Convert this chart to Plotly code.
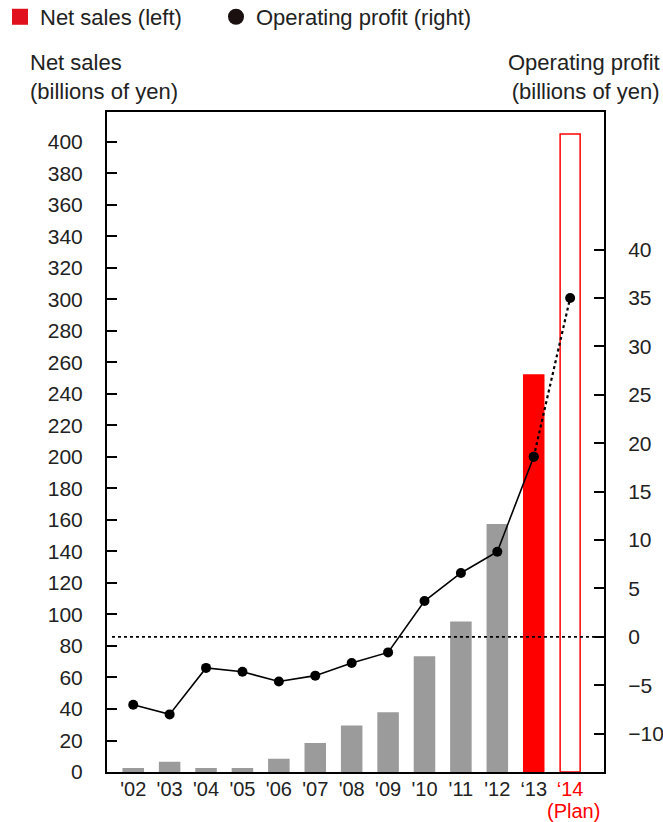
import plotly.graph_objects as go

# Fiscal years on the category axis
years = ["'02", "'03", "'04", "'05", "'06", "'07", "'08", "'09", "'10", "'11", "'12", "‘13", "‘14"]
year_labels = ["'02", "'03", "'04", "'05", "'06", "'07", "'08", "'09", "'10", "'11", "'12",
               "‘13", "<span style='color:#ff0000'>‘14</span>"]
plan_label = "(Plan)"

# Net sales, billions of yen (left axis)
net_sales = [2, 6, 2, 2, 8, 18, 29, 37.5, 73, 95, 157, 252, 405]
# Operating profit, billions of yen (right axis)
op_profit = [-7.0, -8.0, -3.2, -3.6, -4.6, -4.0, -2.7, -1.6, 3.7, 6.6, 8.8, 18.6, 35.0]

left_ticks = list(range(0, 401, 20))
right_ticks = list(range(-10, 41, 5))

FONT = "Liberation Sans, Arial, sans-serif"
GRAY = "#9b9b9b"
RED = "#ff0000"
TEXT = "#222222"

bar_fill = [GRAY] * 11 + [RED, "#ffffff"]
bar_line = [GRAY] * 11 + [RED, RED]

fig = go.Figure()

fig.add_trace(go.Bar(
    x=years, y=net_sales, width=0.55,
    marker=dict(color=bar_fill, line=dict(color=bar_line, width=1.5)),
    showlegend=False, yaxis="y",
))

# Actual results: solid line
fig.add_trace(go.Scatter(
    x=years[:12], y=op_profit[:12], mode="lines+markers",
    line=dict(color="#000000", width=1.6),
    marker=dict(color="#000000", size=10),
    showlegend=False, yaxis="y2",
))
# Plan: dotted segment
fig.add_trace(go.Scatter(
    x=years[11:], y=op_profit[11:], mode="lines+markers",
    line=dict(color="#000000", width=2.2, dash="dot"),
    marker=dict(color="#000000", size=10),
    showlegend=False, yaxis="y2",
))

# Legend entries (each in its own legend box)
fig.add_trace(go.Scatter(
    x=[None], y=[None], mode="markers", name="Net sales (left)",
    marker=dict(symbol="square", color="#e0101c", size=16), legend="legend",
))
fig.add_trace(go.Scatter(
    x=[None], y=[None], mode="markers", name="Operating profit (right)",
    marker=dict(symbol="circle", color="#1a1010", size=16), yaxis="y2", legend="legend2",
))

legend_common = dict(
    orientation="h", xref="paper", yref="paper",
    xanchor="left", yanchor="top", y=1.1758,
    font=dict(size=22, color=TEXT), itemclick=False,
    bgcolor="rgba(0,0,0,0)",
)

fig.update_layout(
    width=663, height=822,
    margin=dict(l=107, r=59, t=112, b=50, autoexpand=False),
    paper_bgcolor="#ffffff", plot_bgcolor="#ffffff",
    font=dict(family=FONT, color=TEXT, size=20),
    legend=dict(legend_common, x=-0.2153),
    legend2=dict(legend_common, x=0.2193),
    xaxis=dict(
        type="category", categoryorder="array", categoryarray=years,
        tickmode="array", tickvals=years, ticktext=year_labels,
        range=[-0.72, 12.93], tickangle=0, automargin=False,
        showline=True, linecolor="#000000", linewidth=2, mirror=True,
        ticks="", showgrid=False, zeroline=False,
        tickfont=dict(size=20, color=TEXT),
        ticklabelstandoff=-2,
    ),
    yaxis=dict(
        range=[0, 419], tickmode="array", tickvals=left_ticks, automargin=False,
        showline=True, linecolor="#000000", linewidth=2, mirror=True,
        ticks="inside", ticklen=10, tickwidth=2, tickcolor="#000000",
        showgrid=False, zeroline=False,
        tickfont=dict(size=21, color=TEXT),
        ticklabelstandoff=18,
    ),
    yaxis2=dict(
        overlaying="y", side="right", automargin=False,
        range=[-13.95, 54.2], tickmode="array", tickvals=right_ticks,
        showline=True, linecolor="#000000", linewidth=2,
        ticks="inside", ticklen=10, tickwidth=2, tickcolor="#000000",
        showgrid=False, zeroline=False,
        tickfont=dict(size=21, color=TEXT),
        ticklabelstandoff=18,
    ),
    shapes=[dict(
        type="line", xref="paper", yref="y2", x0=0.01, x1=0.99, y0=0, y1=0,
        line=dict(color="#000000", width=1.8, dash="dot"),
    )],
    annotations=[
        dict(text="Net sales<br>(billions of yen)", xref="paper", yref="paper",
             x=-0.159, y=1.0, xanchor="left", yanchor="bottom", align="left",
             showarrow=False, font=dict(size=22, color=TEXT), yshift=6),
        dict(text="Operating profit<br>(billions of yen)", xref="paper", yref="paper",
             x=1.117, y=1.0, xanchor="right", yanchor="bottom", align="right",
             showarrow=False, font=dict(size=22, color=TEXT), yshift=6),
        # second line under the plan-year tick label
        dict(text=plan_label, xref="x", yref="paper", x=years[-1], y=0,
             xanchor="center", yanchor="middle", yshift=-39, xshift=3,
             showarrow=False, font=dict(size=20, color=RED)),
    ],
)

fig.write_html("out.html")
